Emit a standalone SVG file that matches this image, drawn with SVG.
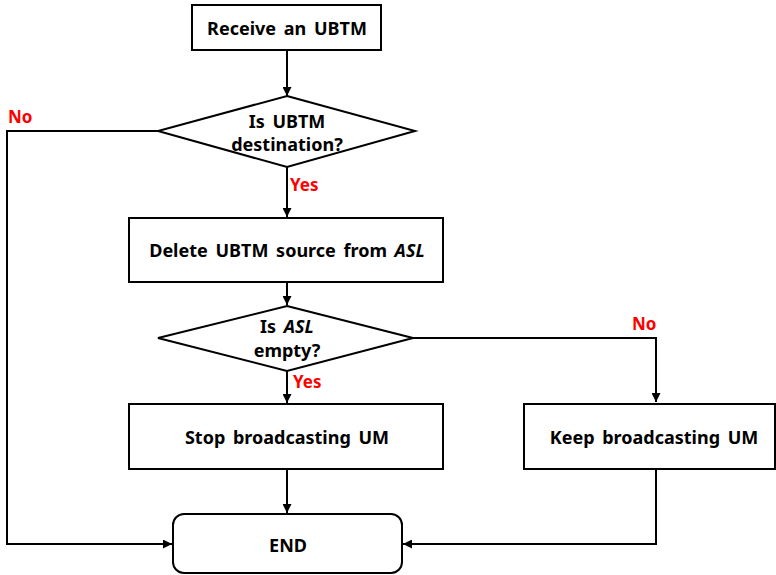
<svg xmlns="http://www.w3.org/2000/svg" width="776" height="575" viewBox="0 0 776 575">
  <defs>
    <marker id="arrow" viewBox="0 0 10 10" refX="10" refY="5" markerWidth="9" markerHeight="9" markerUnits="userSpaceOnUse" orient="auto">
      <path d="M0,0 L10,5 L0,10 z" fill="#000"/>
    </marker>
  </defs>
  <style>
    .shape { fill: #fff; stroke: #000; stroke-width: 2; }
    .label { font-family: "Noto Sans", "Liberation Sans", sans-serif; font-weight: bold; font-size: 18px; word-spacing: 3px; fill: #000; text-anchor: middle; }
    .cond { font-family: "Noto Sans", "Liberation Sans", sans-serif; font-weight: bold; font-size: 17px; fill: #ff0000; }
    .edge { fill: none; stroke: #000; stroke-width: 2; marker-end: url(#arrow); }
  </style>
  <rect width="776" height="575" fill="#fff"/>

  <g id="connectors">
    <path class="edge" d="M287,50 L287,96"/>
    <path class="edge" d="M287,167 L287,217"/>
    <path class="edge" d="M287,282 L287,305"/>
    <path class="edge" d="M287,371 L287,403"/>
    <path class="edge" d="M287,469 L287,513"/>
    <path class="edge" d="M158,131 L7,131 L7,544 L172,544"/>
    <path class="edge" d="M413,338 L656,338 L656,402"/>
    <path class="edge" d="M656,469 L656,544 L403,544"/>
    <text class="cond" x="8" y="123">No</text>
    <text class="cond" x="290" y="191">Yes</text>
    <text class="cond" x="293" y="388">Yes</text>
    <text class="cond" x="632" y="330">No</text>
  </g>

  <g id="receive">
    <rect class="shape" x="192" y="5" width="189" height="45"/>
    <text class="label" x="287" y="35">Receive an UBTM</text>
  </g>

  <g id="is-destination">
    <polygon class="shape" points="287,96 415,131 287,167 158,131"/>
    <text class="label" x="287" y="128">Is UBTM</text>
    <text class="label" x="287" y="151">destination?</text>
  </g>

  <g id="delete-source">
    <rect class="shape" x="129" y="218" width="314" height="64"/>
    <text class="label" x="287" y="257">Delete UBTM source from <tspan font-style="italic">ASL</tspan></text>
  </g>

  <g id="is-empty">
    <polygon class="shape" points="287,306 413,338 287,371 158,338"/>
    <text class="label" x="287" y="333">Is <tspan font-style="italic">ASL</tspan></text>
    <text class="label" x="287" y="357">empty?</text>
  </g>

  <g id="stop-broadcasting">
    <rect class="shape" x="129" y="404" width="314" height="65"/>
    <text class="label" x="287" y="444">Stop broadcasting UM</text>
  </g>

  <g id="keep-broadcasting">
    <rect class="shape" x="524" y="404" width="251" height="65"/>
    <text class="label" x="654" y="444">Keep broadcasting UM</text>
  </g>

  <g id="end">
    <rect class="shape" x="173" y="514" width="229" height="59" rx="11" ry="11"/>
    <text class="label" x="288" y="552">END</text>
  </g>
</svg>
